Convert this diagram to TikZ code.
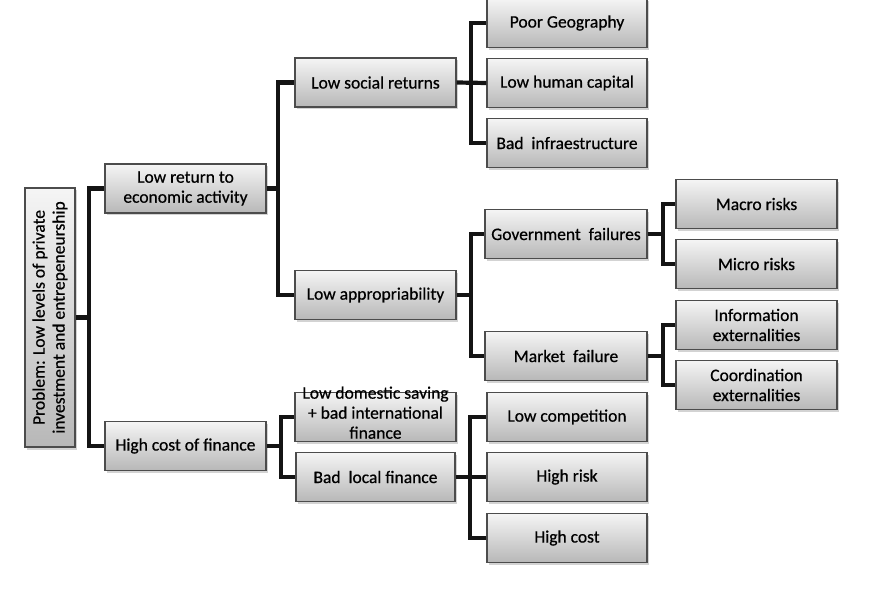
\documentclass[tikz,border=0pt]{standalone}
\usepackage{fontspec}
\setmainfont{Carlito}[FakeBold=0.6]
\usetikzlibrary{shadows}
\begin{document}
\begin{tikzpicture}[x=1pt,y=-1pt,
  box/.style={draw=black!70,line width=1.4pt,top color=black!4,bottom color=black!28,
    drop shadow={shadow xshift=1.5pt,shadow yshift=-2.5pt,opacity=0.35},
    minimum width=161pt,minimum height=49pt,inner sep=1pt,align=center,
    font=\fontsize{17.5}{20}\selectfont,text=black},
  link/.style={line width=4.2pt,draw=black!92,line join=miter},
]
\useasboundingbox (0,0) rectangle (869,609);
% column 0 and 1
\node[box,rotate=90,minimum width=259pt,minimum height=50pt] (root) at (50,317.5)
  {Problem: Low levels of private\\investment and entrepeneurship};
\node[box] (lra) at (185.5,188.5) {Low return to\\economic activity};
\node[box] (hcf) at (185.5,446) {High cost of finance};
% column 2
\node[box] (lsr) at (375.5,82.5) {Low social returns};
\node[box] (lap) at (375.5,295) {Low appropriability};
\node[box,minimum width=159pt] (lds) at (375.5,417)
  {\smash{\parbox[c]{159pt}{\centering Low domestic saving\\+ bad international\\finance}}};
\node[box,minimum width=159pt] (blf) at (375.5,477) {Bad~ local finance};
% column 3
\node[box,minimum width=160pt] (pg) at (567,23) {Poor Geography};
\node[box,minimum width=160pt] (lhc) at (567,83) {Low human capital};
\node[box,minimum width=160pt] (bi) at (567,143) {Bad~ infraestructure};
\node[box,minimum width=162pt] (gf) at (566,234) {Government~ failures};
\node[box,minimum width=162pt] (mf) at (566,356) {Market~ failure};
\node[box,minimum width=160pt] (lc) at (567,417) {Low competition};
\node[box,minimum width=160pt] (hr) at (567,477) {High risk};
\node[box,minimum width=160pt] (hc) at (567,538) {High cost};
% column 4
\node[box] (mr) at (756.5,204) {Macro risks};
\node[box] (mi) at (756.5,264) {Micro risks};
\node[box] (ie) at (756.5,325) {Information\\externalities};
\node[box] (ce) at (756.5,385) {Coordination\\externalities};
% connectors
\draw[link] (root.south) -- ([xshift=13pt]root.south) |- (lra.west);
\draw[link] ([xshift=13pt]root.south) |- (hcf.west);
\draw[link] (lra.east) -- ([xshift=11pt]lra.east) |- (lsr.west);
\draw[link] ([xshift=11pt]lra.east) |- (lap.west);
\draw[link] (hcf.east) -- ([xshift=14pt]hcf.east) |- (lds.west);
\draw[link] ([xshift=14pt]hcf.east) |- (blf.west);
\draw[link] (lsr.east) -- (lhc.west);
\draw[link] ([xshift=14pt]lsr.east) |- (pg.west);
\draw[link] ([xshift=14pt]lsr.east) |- (bi.west);
\draw[link] (lap.east) -- ([xshift=14pt]lap.east) |- (gf.west);
\draw[link] ([xshift=14pt]lap.east) |- (mf.west);
\draw[link] (gf.east) -- ([xshift=15pt]gf.east) |- (mr.west);
\draw[link] ([xshift=15pt]gf.east) |- (mi.west);
\draw[link] (mf.east) -- ([xshift=15pt]mf.east) |- (ie.west);
\draw[link] ([xshift=15pt]mf.east) |- (ce.west);
\draw[link] (blf.east) -- (hr.west);
\draw[link] ([xshift=14pt]blf.east) |- (lc.west);
\draw[link] ([xshift=14pt]blf.east) |- (hc.west);
\end{tikzpicture}
\end{document}
